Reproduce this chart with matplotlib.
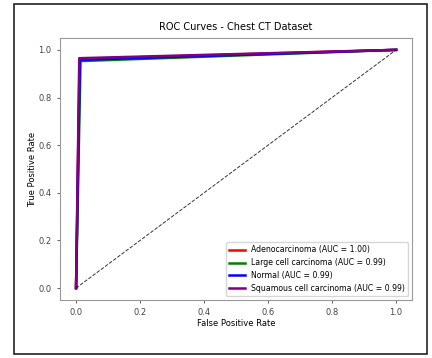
import matplotlib
matplotlib.use('Agg')
import matplotlib.pyplot as plt
from matplotlib.patches import Rectangle

classes = ['Adenocarcinoma', 'Large cell carcinoma', 'Normal', 'Squamous cell carcinoma']
aucs = ['1.00', '0.99', '0.99', '0.99']
colors = ['red', 'green', 'blue', 'purple']
fpr = [[0.0, 0.011, 1.0], [0.0, 0.014, 1.0], [0.0, 0.012, 1.0], [0.0, 0.010, 1.0]]
tpr = [[0.0, 0.962, 1.0], [0.0, 0.953, 1.0], [0.0, 0.958, 1.0], [0.0, 0.965, 1.0]]

fig = plt.figure(figsize=(4.32, 3.58), dpi=100)
fig.patches.append(Rectangle((0.033, 0.012), 0.955, 0.978, transform=fig.transFigure,
                             fill=False, edgecolor='#222222', linewidth=1.2))
ax = fig.add_axes([0.139, 0.162, 0.815, 0.732])

for i in range(len(classes)):
    ax.plot(fpr[i], tpr[i], color=colors[i], lw=1.8,
            label=classes[i] + ' (AUC = ' + aucs[i] + ')')
ax.plot([0, 1], [0, 1], 'k--', lw=0.7, alpha=0.8)

ax.set_title('ROC Curves - Chest CT Dataset', fontsize=7)
ax.set_xlabel('False Positive Rate', fontsize=6, labelpad=1)
ax.set_ylabel('True Positive Rate', fontsize=6, labelpad=1)
ax.tick_params(labelsize=6, length=2.5, width=0.6, colors='#444444')
for s in ax.spines.values():
    s.set_color('#999999')
ax.legend(loc='lower right', fontsize=5.6, handlelength=2)

fig.savefig('out.png', dpi=100)
